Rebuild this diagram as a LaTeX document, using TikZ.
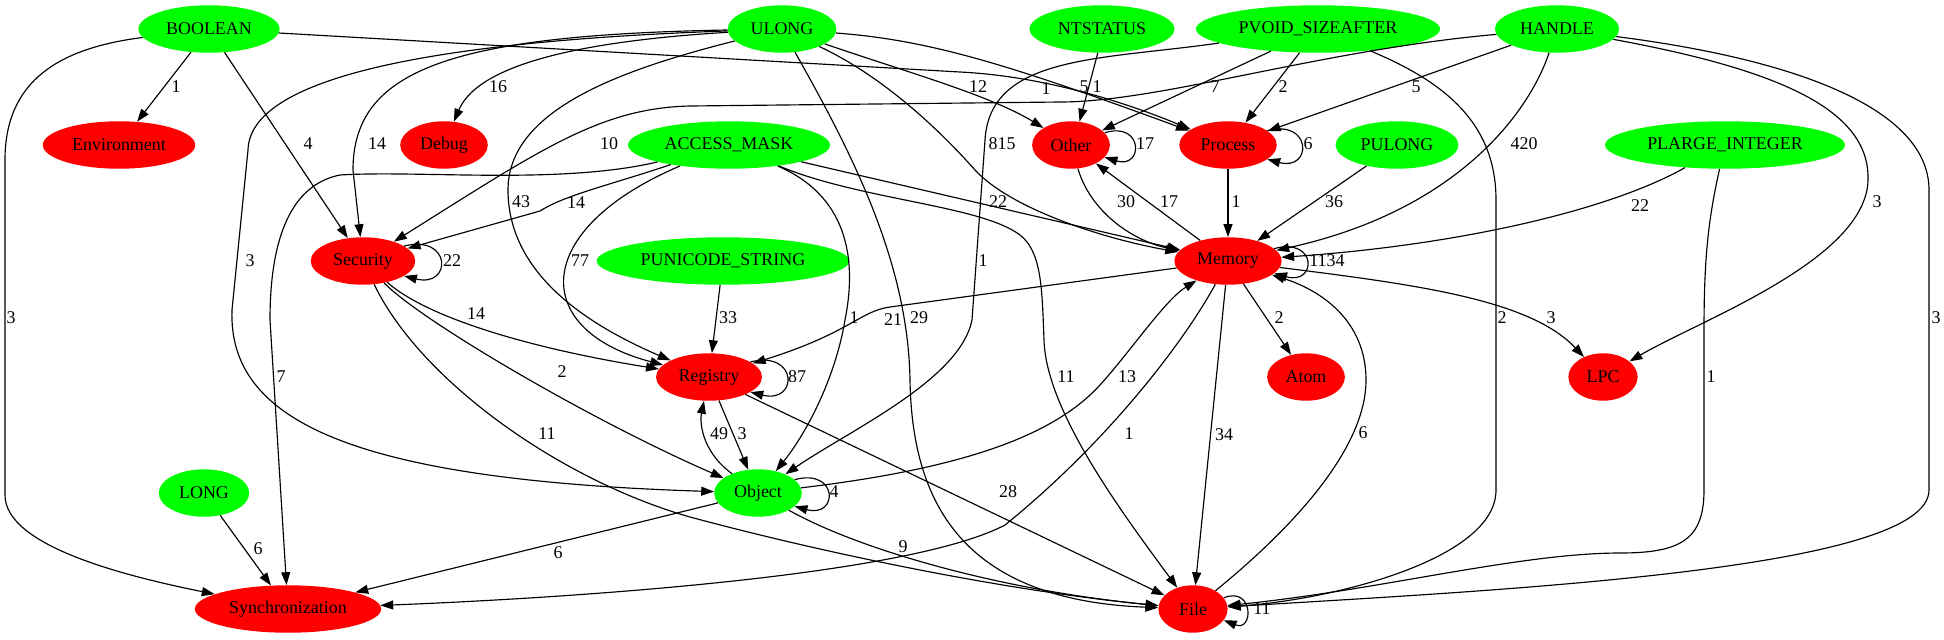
\documentclass[tikz,border=0pt]{standalone}
\usepackage{fontspec}
\setmainfont{Liberation Serif}
\usepackage{tikz}
\usetikzlibrary{arrows.meta, shapes.geometric}
\definecolor{typeGreen}{HTML}{00FF00}
\definecolor{areaRed}{HTML}{FF0000}
\tikzset{
  typ/.style={ellipse, fill=typeGreen, minimum width=54pt, minimum height=37pt, inner xsep=5.5pt, inner ysep=2pt, font=\fontsize{14}{16}\selectfont},
  area/.style={typ, fill=areaRed},
  e/.style={line width=0.9pt, -{Triangle[length=10pt, width=7pt]}},
  num/.style={inner sep=0pt, font=\fontsize{14}{16}\selectfont},
}

\begin{document}
\begin{tikzpicture}[x=0.78pt, y=-0.78pt]
\useasboundingbox (0,0) rectangle (1944,639);

% nodes
\node[typ] (BOOLEAN) at (209,29) {BOOLEAN};
\node[typ] (ULONG) at (782,29) {ULONG};
\node[typ] (NTSTATUS) at (1102,29) {NTSTATUS};
\node[typ] (PVOID) at (1318,29) {PVOID\_SIZEAFTER};
\node[typ] (HANDLE) at (1557,29) {HANDLE};
\node[area] (Environment) at (119,145) {Environment};
\node[area] (Debug) at (444,145) {Debug};
\node[typ] (ACCESSMASK) at (729,145) {ACCESS\_MASK};
\node[area] (Other) at (1071,145) {Other};
\node[area] (Process) at (1228,145) {Process};
\node[typ] (PULONG) at (1397,145) {PULONG};
\node[typ] (PLARGE) at (1725,145) {PLARGE\_INTEGER};
\node[area] (Security) at (363,261) {Security};
\node[typ] (PUNICODE) at (723,261) {PUNICODE\_STRING};
\node[area] (Memory) at (1228,261) {Memory};
\node[area] (Registry) at (709,377) {Registry};
\node[area] (Atom) at (1306,377) {Atom};
\node[area] (LPC) at (1603,377) {LPC};
\node[typ] (LONG) at (204,493) {LONG};
\node[typ] (Object) at (758,493) {Object};
\node[area] (Synchronization) at (288,609) {Synchronization};
\node[area] (File) at (1193,609) {File};

% BOOLEAN
\draw[e] (BOOLEAN) -- (Environment) node[num] at (176,87) {1};
\draw[e] (BOOLEAN) -- (Security) node[num] at (308,144) {4};
\draw[e] (BOOLEAN) .. controls (60,48) and (5,80) .. (5,160) -- (5,495) .. controls (5,545) and (120,575) .. (Synchronization) node[num] at (11,318) {3};
\draw[e] (BOOLEAN) -- (960,72) .. controls (1040,76) and (1120,100) .. (Process) node[num] at (1046,89) {1};

% ULONG
\draw[e] (ULONG) .. controls (600,40) and (480,60) .. (Debug) node[num] at (498,87) {16};
\draw[e] (ULONG) .. controls (450,35) and (353,70) .. (353,170) -- (Security) node[num] at (377,144) {14};
\draw[e] (ULONG) .. controls (470,40) and (250,70) .. (248,150) -- (232,310) .. controls (228,420) and (350,480) .. (Object) node[num] at (250,261) {3};
\draw[e] (ULONG) .. controls (620,70) and (508,110) .. (508,190) .. controls (508,280) and (600,330) .. (Registry) node[num] at (521,202) {43};
\draw[e] (ULONG) .. controls (900,70) and (990,95) .. (Other) node[num] at (978,87) {12};
\draw[e] (ULONG) .. controls (930,40) and (1010,65) .. (Process) node[num] at (1084,87) {5};
\draw[e] (ULONG) .. controls (880,75) and (935,125) .. (975,170) .. controls (1010,208) and (1100,238) .. (Memory) node[num] at (1002,144) {815};
\draw[e] (ULONG) .. controls (850,150) and (908,260) .. (910,380) .. controls (912,500) and (960,600) .. (File) node[num] at (919,318) {29};

% NTSTATUS, PVOID_SIZEAFTER
\draw[e] (NTSTATUS.-100) -- (Other.70) node[num] at (1097,87) {1};
\draw[e] (PVOID) -- (Other) node[num] at (1215,87) {7};
\draw[e] (PVOID) -- (Process) node[num] at (1283,87) {2};
\draw[e] (PVOID) .. controls (1100,60) and (990,55) .. (985,140) -- (972,320) .. controls (960,380) and (850,430) .. (Object) node[num] at (983,261) {1};
\draw[e] (PVOID) .. controls (1440,80) and (1496,120) .. (1496,200) -- (1496,490) .. controls (1496,560) and (1330,600) .. (File) node[num] at (1502,318) {2};

% HANDLE
\draw[e] (HANDLE) .. controls (1320,50) and (1160,102) .. (1060,102) -- (690,106) .. controls (600,108) and (540,150) .. (Security) node[num] at (609,144) {10};
\draw[e] (HANDLE) -- (Process) node[num] at (1416,87) {5};
\draw[e] (HANDLE) .. controls (1530,110) and (1460,210) .. (Memory) node[num] at (1524,144) {420};
\draw[e] (HANDLE) .. controls (1780,70) and (1870,110) .. (1868,180) .. controls (1866,260) and (1700,320) .. (LPC) node[num] at (1877,202) {3};
\draw[e] (HANDLE) .. controls (1800,60) and (1929,110) .. (1929,190) -- (1929,490) .. controls (1929,570) and (1500,590) .. (File) node[num] at (1936,318) {3};

% ACCESS_MASK
\draw[e] (ACCESSMASK) .. controls (610,185) and (565,195) .. (540,211) -- (Security) node[num] at (576,203) {14};
\draw[e] (ACCESSMASK) .. controls (560,185) and (420,170) .. (340,175) .. controls (290,185) and (270,240) .. (270,320) -- (Synchronization) node[num] at (281,377) {7};
\draw[e] (ACCESSMASK) .. controls (530,230) and (530,330) .. (Registry) node[num] at (580,261) {77};
\draw[e] (ACCESSMASK) .. controls (845,195) and (858,255) .. (845,320) .. controls (835,380) and (805,435) .. (Object) node[num] at (854,318) {1};
\draw[e] (ACCESSMASK) -- (Memory) node[num] at (998,202) {22};
\draw[e] (ACCESSMASK) .. controls (860,200) and (980,205) .. (1020,235) .. controls (1042,252) and (1042,290) .. (1044,340) .. controls (1046,410) and (1120,510) .. (File) node[num] at (1066,377) {11};

% PUNICODE_STRING, PULONG, PLARGE_INTEGER
\draw[e] (PUNICODE) -- (Registry) node[num] at (728,318) {33};
\draw[e] (PULONG) -- (Memory) node[num] at (1334,202) {36};
\draw[e] (PLARGE) .. controls (1610,210) and (1460,245) .. (Memory) node[num] at (1640,206) {22};
\draw[e] (PLARGE) .. controls (1708,220) and (1704,260) .. (1704,330) -- (1704,490) .. controls (1704,540) and (1680,553) .. (1620,553) .. controls (1520,553) and (1380,590) .. (File) node[num] at (1711,377) {1};

% Other, Process, Memory
\draw[e] (Other.20) .. controls +(39,-12) and +(39,12) .. (Other.-20) node[num] at (1145,144) {17};
\draw[e] (Other) .. controls (1090,210) and (1130,240) .. (Memory) node[num] at (1126,202) {30};
\draw[e] (Process.20) .. controls +(45,-12) and +(45,12) .. (Process.-20) node[num] at (1308,144) {6};
\draw[e] (Process) -- (Memory) node[num] at (1236,202) {1};
\draw[e] (Memory.15) .. controls +(43,-12) and +(43,12) .. (Memory.-15) node[num] at (1327,261) {1134};
\draw[e] (Memory) -- (Other) node[num] at (1169,202) {17};
\draw[e] (Memory) -- (890,307) .. controls (860,311) and (850,333) .. (Registry) node[num] at (893,320) {21};
\draw[e] (Memory) -- (Atom) node[num] at (1279,318) {2};
\draw[e] (Memory) .. controls (1420,285) and (1530,300) .. (LPC) node[num] at (1551,318) {3};
\draw[e] (Memory) -- (File) node[num] at (1224,435) {34};
\draw[e] (Memory) .. controls (1185,340) and (1110,440) .. (1005,525) .. controls (900,580) and (520,600) .. (Synchronization) node[num] at (1129,434) {1};

% File
\draw[e] (File.20) .. controls +(30,-12) and +(30,12) .. (File.-20) node[num] at (1262,609) {11};
\draw[e] (File) .. controls (1290,530) and (1366,450) .. (1366,380) .. controls (1366,320) and (1320,290) .. (Memory) node[num] at (1363,433) {6};

% Security
\draw[e] (Security.20) .. controls +(48,-12) and +(48,12) .. (Security.-20) node[num] at (452,261) {22};
\draw[e] (Security) .. controls (430,320) and (540,350) .. (Registry) node[num] at (476,314) {14};
\draw[e] (Security) .. controls (420,320) and (590,420) .. (Object) node[num] at (562,372) {2};
\draw[e] (Security) .. controls (420,380) and (560,480) .. (690,517) .. controls (820,552) and (1000,590) .. (File) node[num] at (547,434) {11};

% Registry
\draw[e] (Registry.20) .. controls +(48,-12) and +(48,12) .. (Registry.-20) node[num] at (797,377) {87};
\draw[e] (Registry) -- (Object) node[num] at (742,434) {3};
\draw[e] (Registry) -- (File) node[num] at (1008,492) {28};

% Object, LONG
\draw[e] (Object.20) .. controls +(44,-12) and +(44,12) .. (Object.-20) node[num] at (834,492) {4};
\draw[e] (Object) .. controls (700,450) and (700,420) .. (Registry) node[num] at (719,434) {49};
\draw[e] (Object) .. controls (950,470) and (1050,440) .. (1100,385) .. controls (1130,352) and (1165,300) .. (Memory) node[num] at (1127,377) {13};
\draw[e] (Object) -- (Synchronization) node[num] at (558,553) {6};
\draw[e] (Object) .. controls (860,550) and (1000,590) .. (File) node[num] at (903,547) {9};
\draw[e] (LONG) -- (Synchronization) node[num] at (258,549) {6};

\end{tikzpicture}
\end{document}
